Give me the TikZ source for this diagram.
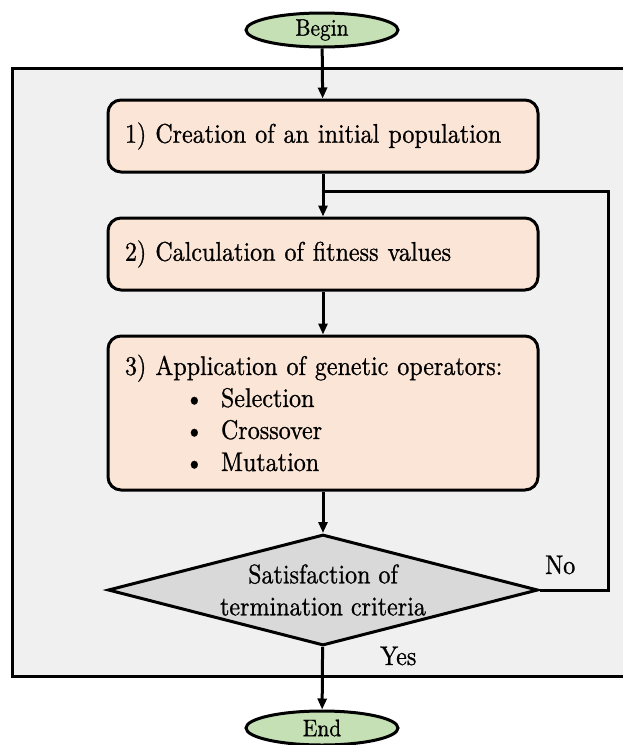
\documentclass[tikz,border=0pt]{standalone}
\usepackage{fontspec}
\setmainfont{lmroman10-regular.otf}[FakeBold=0.8, FakeStretch=0.89]
\usetikzlibrary{shapes.geometric,arrows.meta}
\definecolor{framefill}{HTML}{F0F0F0}
\definecolor{stepfill}{HTML}{FBE5D6}
\definecolor{termfill}{HTML}{C5E0B4}
\definecolor{decfill}{HTML}{D9D9D9}
\tikzset{
  bigtext/.style={font=\fontsize{27}{32}\selectfont},
  termbox/.style={ellipse, draw, line width=3pt, fill=termfill,
    minimum width=152pt, minimum height=34pt, inner sep=0pt,
    font=\fontsize{24}{26}\selectfont},
  stepbox/.style={rectangle, rounded corners=13pt, draw, line width=3pt,
    fill=stepfill, minimum width=430pt, inner xsep=17pt, text width=396pt,
    align=left, bigtext},
  decbox/.style={diamond, draw, line width=3pt, fill=decfill, aspect=3.87,
    minimum width=430pt, minimum height=111pt, inner sep=0pt, align=center,
    bigtext},
  flow/.style={line width=3pt, -{Triangle[length=11pt,width=9pt]}},
  loopline/.style={line width=3pt},
  lbl/.style={inner sep=0pt, bigtext}
}
\newcommand{\bulletitem}[1]{\hspace*{60pt}\makebox[36pt][l]{\textbullet}#1}
\begin{document}
\begin{tikzpicture}[x=1pt, y=-1pt]
  \useasboundingbox (0,0) rectangle (623,745);
  % outer frame around the iterative part
  \begin{scope}
    \clip (0,0) rectangle (623,745);
    \draw[line width=3pt, fill=framefill] (12,68) rectangle (640,676);
  \end{scope}

  \node[termbox] (begin) at (322,30) {Begin};
  \node[stepbox, minimum height=72pt] (s1) at (323,136) {1) Creation of an initial population};
  \node[stepbox, minimum height=72pt] (s2) at (323,254) {2) Calculation of fitness values};
  \node[stepbox, minimum height=154pt] (s3) at (323,413) {3) Application of genetic operators:\\
    \bulletitem{Selection}\\
    \bulletitem{Crossover}\\
    \bulletitem{Mutation}};
  \node[decbox] (dec) at (323,590) {Satisfaction of\\termination criteria};
  \node[termbox] (end) at (322,728) {End};

  \node[lbl, anchor=base west] (no) at (545,574) {No};
  \node[lbl, anchor=base west] (yes) at (380,665) {Yes};

  \coordinate (join) at (s1.south |- 0,191);
  \coordinate (loopR) at (608,191);

  \draw[flow] (begin) -- (s1);
  \draw[flow] (s1) -- (s2);
  \draw[flow] (s2) -- (s3);
  \draw[flow] (s3) -- (dec);
  \draw[flow] (dec) -- (end);
  \draw[loopline] (dec.east) -| (loopR) -- (join);
\end{tikzpicture}
\end{document}
